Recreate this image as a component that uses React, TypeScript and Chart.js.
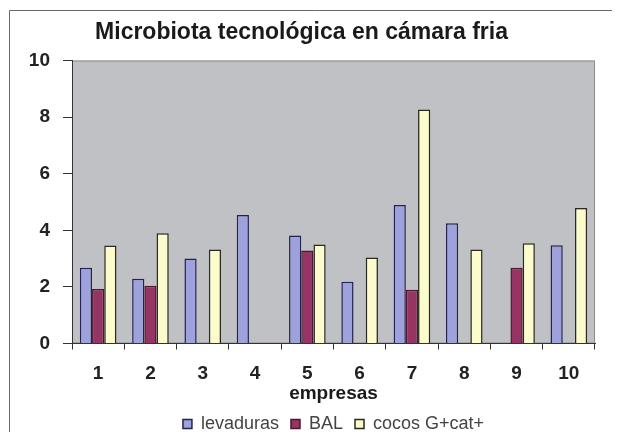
import React, { useEffect, useRef } from "react";
import { Chart, registerables } from "chart.js";

Chart.register(...registerables);

const categories = ["1", "2", "3", "4", "5", "6", "7", "8", "9", "10"];
const levaduras = [2.68, 2.29, 3.0, 4.54, 3.82, 2.18, 4.89, 4.25, null, 3.47];
const bal = [1.93, 2.04, null, null, 3.29, null, 1.9, null, 2.68, null];
const cocos = [3.46, 3.9, 3.32, null, 3.5, 3.04, 8.27, 3.32, 3.54, 4.79];
const seriesNames = ["levaduras", "BAL", "cocos G+cat+"];
const titleText = "Microbiota tecnológica en cámara fria";
const xTitle = "empresas";
const yMin = 0;
const yMax = 10;
const yStep = 2;

const FONT = "'Liberation Sans', Arial, sans-serif";

const frameAndPlot = {
  id: "frameAndPlot",
  beforeDraw(chart: any) {
    const { ctx, chartArea, width, height } = chart;
    ctx.save();
    ctx.fillStyle = "#ffffff";
    ctx.fillRect(0, 0, width, height);
    // outer frame (top & left)
    ctx.strokeStyle = "#6a6a6a";
    ctx.lineWidth = 1;
    ctx.beginPath();
    ctx.moveTo(1.5, height);
    ctx.lineTo(1.5, 2.5);
    ctx.lineTo(width, 2.5);
    ctx.stroke();
    // plot area
    ctx.fillStyle = "#c0c1c4";
    ctx.fillRect(chartArea.left, chartArea.top, chartArea.right - chartArea.left, chartArea.bottom - chartArea.top);
    ctx.strokeStyle = "#8c8c8c";
    ctx.strokeRect(chartArea.left + 0.5, chartArea.top + 0.5, chartArea.right - chartArea.left - 1, chartArea.bottom - chartArea.top - 1);
    ctx.restore();
  },
};

export default function App() {
  const ref = useRef<HTMLCanvasElement | null>(null);

  useEffect(() => {
    if (!ref.current) return;
    const chart = new Chart(ref.current, {
      type: "bar",
      data: {
        labels: categories,
        datasets: [
          {
            label: seriesNames[0],
            data: levaduras,
            backgroundColor: "#9ea2dc",
            borderColor: "#23234f",
            borderWidth: 1.5,
          },
          {
            label: seriesNames[1],
            data: bal,
            backgroundColor: "#963463",
            borderColor: "#4a1830",
            borderWidth: 1.5,
          },
          {
            label: seriesNames[2],
            data: cocos,
            backgroundColor: "#fbfbcc",
            borderColor: "#2a2a20",
            borderWidth: 1.5,
          },
        ],
      },
      options: {
        responsive: false,
        animation: false,
        devicePixelRatio: 1,
        layout: { padding: { left: 0, right: 25, top: 0, bottom: -11 } },
        datasets: {
          bar: { categoryPercentage: 0.7, barPercentage: 1 },
        },
        plugins: {
          title: {
            display: true,
            text: titleText,
            color: "#1a1a1a",
            font: { family: FONT, size: 23, weight: "bold", lineHeight: 1.2 },
            padding: { top: 11.2, bottom: 13.7 },
          },
          legend: {
            display: true,
            position: "bottom",
            fullSize: false,
            labels: {
              color: "#444",
              font: { family: FONT, size: 18 },
              boxWidth: 9,
              boxHeight: 9,
              padding: 12,
            },
          },
          tooltip: { enabled: false },
        },
        scales: {
          x: {
            grid: {
              drawOnChartArea: false,
              drawTicks: true,
              tickLength: 6,
              tickColor: "#333",
              offset: true,
            },
            border: { display: true, color: "#333", width: 1 },
            ticks: {
              color: "#222",
              font: { family: FONT, size: 19, weight: "bold" },
              padding: 13,
              maxRotation: 0,
            },
            title: {
              display: true,
              text: xTitle,
              color: "#1a1a1a",
              font: { family: FONT, size: 19, weight: "bold", lineHeight: 1 },
              padding: { top: 0, bottom: 0 },
            },
            afterFit(scale: any) {
              scale.height = 59.5;
            },
          },
          y: {
            min: yMin,
            max: yMax,
            grid: {
              drawOnChartArea: false,
              drawTicks: true,
              tickLength: 9,
              tickColor: "#333",
            },
            border: { display: true, color: "#333", width: 1 },
            ticks: {
              stepSize: yStep,
              color: "#222",
              font: { family: FONT, size: 19, weight: "bold" },
              padding: 13,
            },
            afterFit(scale: any) {
              scale.width = 64;
            },
          },
        },
      },
      plugins: [frameAndPlot],
    });
    return () => chart.destroy();
  }, []);

  return (
    <div style={{ width: 612, height: 424 }}>
      <canvas ref={ref} width={612} height={424} style={{ display: "block", width: 612, height: 424 }} />
    </div>
  );
}
